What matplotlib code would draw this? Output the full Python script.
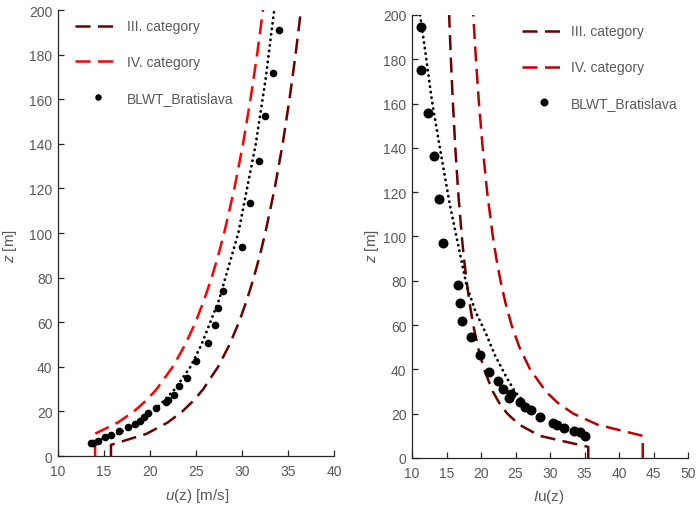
import numpy as np
import matplotlib
matplotlib.use("Agg")
import matplotlib.pyplot as plt

plt.rcParams['font.family'] = ['Liberation Sans', 'DejaVu Sans']
plt.rcParams['mathtext.fontset'] = 'custom'
plt.rcParams['mathtext.rm'] = 'Liberation Sans'
plt.rcParams['mathtext.it'] = 'Liberation Sans:italic'

# ---------------- data ----------------
# Eurocode profile curves (heights in m)
z_cat3 = [0, 5, 10, 15, 20, 25, 30, 40, 50, 60, 70, 80, 90, 100, 120, 140, 160, 180, 200]
u_cat3 = [15.76, 15.76, 19.64, 21.91, 23.52, 24.77, 25.79, 27.40, 28.65, 29.67, 30.53,
          31.28, 31.94, 32.53, 33.55, 34.42, 35.16, 35.82, 36.41]
I_cat3 = [35.54, 35.54, 28.52, 25.56, 23.81, 22.61, 21.71, 20.44, 19.55, 18.87, 18.34,
          17.90, 17.53, 17.21, 16.69, 16.27, 15.93, 15.63, 15.38]

z_cat4 = [0, 10, 15, 20, 25, 30, 40, 50, 60, 70, 80, 90, 100, 120, 140, 160, 180, 200]
u_cat4 = [14.03, 14.03, 16.50, 18.25, 19.61, 20.72, 22.47, 23.83, 24.95, 25.88, 26.70,
          27.42, 28.06, 29.17, 30.11, 30.92, 31.64, 32.28]
I_cat4 = [43.43, 43.43, 36.93, 33.38, 31.07, 29.40, 27.11, 25.56, 24.42, 23.54, 22.82,
          22.22, 21.71, 20.89, 20.24, 19.70, 19.26, 18.87]

# BLWT Bratislava measurements - mean velocity
u_meas = [34.05, 33.33, 32.5, 31.8, 30.87, 30.0, 27.9, 27.4, 27.07, 26.3, 25.0, 24.05,
          23.2, 22.6, 22.0, 21.7, 20.7, 19.8, 19.3, 18.9, 18.4, 17.6, 16.6, 15.8,
          15.1, 14.4, 13.8, 13.55]
z_meas_u = [191.2, 171.9, 152.3, 132.4, 113.3, 93.9, 74.1, 66.2, 58.7, 50.6, 42.7, 35.2,
            31.4, 27.4, 25.3, 24.1, 21.4, 19.2, 17.3, 15.8, 14.3, 12.9, 11.3, 9.6,
            8.4, 6.9, 6.0, 5.7]

# trend line of the mean velocity
z_trend_u = [6, 10, 15, 20, 30, 40, 50, 70, 100, 140, 170, 200]
u_trend = [13.6, 16.5, 18.8, 20.4, 22.7, 24.4, 25.6, 27.5, 29.6, 31.5, 32.6, 33.5]

# BLWT Bratislava measurements - turbulence intensity
I_meas = [11.3, 11.3, 12.3, 13.2, 13.9, 14.5, 16.7, 17.0, 17.2, 18.5, 19.9, 21.2,
          22.5, 23.2, 24.0, 24.3, 25.6, 26.4, 27.2, 28.6, 30.4, 31.0, 32.0, 33.5,
          34.3, 35.1]
z_meas_I = [194.7, 175.3, 155.8, 136.2, 116.9, 97.1, 78.0, 69.8, 62.0, 54.5, 46.6, 38.7,
            34.9, 31.0, 27.3, 28.7, 25.1, 23.2, 21.5, 18.5, 16.0, 15.0, 13.4, 12.3,
            11.6, 10.1]

# trend line of the turbulence intensity
I_trend = [11.16, 11.9, 12.85, 14.06, 15.5, 16.7, 17.9, 19.2, 20.6, 22.0, 23.5, 24.9, 25.9]
z_trend_I = [200, 184, 162, 139.5, 114, 96, 78, 66, 57, 46.5, 37.5, 30, 26.5]

labels = ["III. category", "IV. category", "BLWT_Bratislava"]

# ---------------- style ----------------
c3 = '#6b0000'
c4_left = '#ff0000'
c4_right = '#c00000'
gray = '#595959'
fs = 10
fs_lab = 11
dash = (0, (6, 3))
lw = 1.8
dot = (0, (0.1, 1.9))

fig = plt.figure(figsize=(6.96, 5.06), dpi=100)
ax1 = fig.add_axes([0.0833, 0.0968, 0.3966, 0.8814])
ax2 = fig.add_axes([0.5920, 0.0929, 0.3966, 0.8755])

# left panel
ax1.plot(u_cat3, z_cat3, color=c3, lw=lw, linestyle=dash, label=labels[0], zorder=2)
ax1.plot(u_cat4, z_cat4, color=c4_left, lw=lw, linestyle=dash, label=labels[1], zorder=2)
ax1.plot(u_trend, z_trend_u, color='black', lw=2.0, linestyle=dot,
         dash_capstyle='round', zorder=3)
ax1.plot(u_meas, z_meas_u, 'o', color='black', ms=5.5, mew=0, label=labels[2], zorder=4)
ax1.set_xlim(10, 40)
ax1.set_ylim(0, 200)
ax1.set_xticks(np.arange(10, 41, 5))
ax1.set_yticks(np.arange(0, 201, 20))
ax1.set_xlabel(r'$u$(z) [m/s]', fontsize=fs_lab, color=gray)
ax1.set_ylabel(r'$z$ [m]', fontsize=fs_lab, color=gray)
ax1.xaxis.set_label_coords(0.505, -0.068)
ax1.yaxis.set_label_coords(-0.141, 0.473)
ax1.legend(loc='upper left', bbox_to_anchor=(0.0616, 0.979), frameon=False,
           fontsize=fs, labelcolor=gray, borderpad=0, borderaxespad=0,
           handlelength=3.25, handletextpad=0.5, labelspacing=1.58, markerscale=0.85)

# right panel
ax2.plot(I_cat3, z_cat3, color=c3, lw=lw, linestyle=dash, label=labels[0], zorder=2)
ax2.plot(I_cat4, z_cat4, color=c4_right, lw=lw, linestyle=dash, label=labels[1], zorder=2)
ax2.plot(I_trend, z_trend_I, color='black', lw=2.0, linestyle=dot,
         dash_capstyle='round', zorder=3)
ax2.plot(I_meas, z_meas_I, 'o', color='black', ms=7.2, mew=0, label=labels[2], zorder=4)
ax2.set_xlim(10, 50)
ax2.set_ylim(0, 200)
ax2.set_xticks(np.arange(10, 51, 5))
ax2.set_yticks(np.arange(0, 201, 20))
ax2.set_xlabel(r'$I$u(z)', fontsize=fs_lab, color=gray)
ax2.set_ylabel(r'$z$ [m]', fontsize=fs_lab, color=gray)
ax2.xaxis.set_label_coords(0.496, -0.0655)
ax2.yaxis.set_label_coords(-0.112, 0.481)
ax2.legend(loc='upper left', bbox_to_anchor=(0.397, 0.9786), frameon=False,
           fontsize=fs, labelcolor=gray, borderpad=0, borderaxespad=0,
           handlelength=3.25, handletextpad=0.32, labelspacing=1.58, markerscale=0.8)

for ax in (ax1, ax2):
    for s in ('top', 'right'):
        ax.spines[s].set_visible(False)
    for s in ('left', 'bottom'):
        ax.spines[s].set_color('#262626')
        ax.spines[s].set_linewidth(0.9)
    ax.tick_params(direction='in', length=4, width=0.9, color='#262626',
                   labelcolor=gray, labelsize=fs)
    ax.tick_params(axis='x', pad=6)
    ax.tick_params(axis='y', pad=4)

fig.savefig('out.png', dpi=100)
